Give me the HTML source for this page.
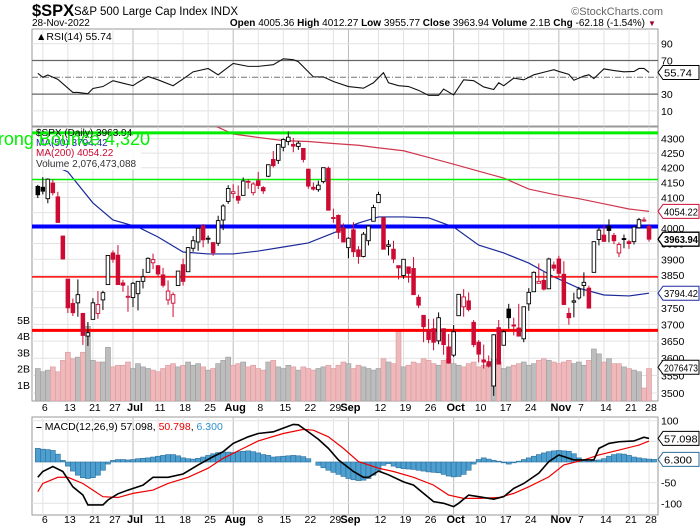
<!DOCTYPE html>
<html><head><meta charset="utf-8"><style>
html,body{margin:0;padding:0;background:#fff;width:700px;height:530px;overflow:hidden}
svg{display:block;font-family:"Liberation Sans",sans-serif}
</style></head><body>
<svg id="c" width="700" height="530" viewBox="0 0 700 530" xmlns="http://www.w3.org/2000/svg">
<g>
<text x="32" y="16" font-size="16.5" font-weight="bold" fill="#000">$SPX</text>
<text x="74" y="15" font-size="11.5" fill="#000">S&amp;P 500 Large Cap Index  INDX</text>
<text x="663" y="15" font-size="11" fill="#666" text-anchor="end">©StockCharts.com</text>
<text x="32" y="26" font-size="10" fill="#000">28-Nov-2022</text>
<text x="645" y="26" font-size="10" fill="#000" text-anchor="end"><tspan font-weight="bold">Open</tspan> 4005.36 <tspan font-weight="bold">High</tspan> 4012.27 <tspan font-weight="bold">Low</tspan> 3955.77 <tspan font-weight="bold">Close</tspan> 3963.94 <tspan font-weight="bold">Volume</tspan> 2.1B <tspan font-weight="bold">Chg</tspan> -62.18 (-1.54%)</text>
<text x="648" y="26" font-size="8" fill="#a0002a">▼</text>
</g>
<g id="grid"></g>
<g id="rsi"></g>
<defs><clipPath id="pclip"><rect x="32" y="127" width="626" height="274"/></clipPath><clipPath id="mclip"><rect x="32" y="417" width="626" height="98"/></clipPath></defs>
<g id="price" clip-path="url(#pclip)"></g>
<g id="macd" clip-path="url(#mclip)"></g>
<g id="overlay"></g>
</svg>
<script>
const ohlc=[[4137,4142,4098,4109],[4134,4168,4110,4121],[4096,4164,4081,4161],[4148,4160,4107,4116],[4102,4119,4017,4018],[3974,3974,3900,3901],
[3838,3838,3734,3750],[3763,3778,3725,3735],[3765,3837,3723,3790],[3733,3733,3639,3667],[3665,3707,3636,3675],[3715,3779,3715,3765],[3733,3801,3717,3760],[3774,3802,3743,3796],[3821,3913,3821,3912],
[3920,3928,3889,3900],[3913,3945,3820,3821],[3826,3836,3799,3819],[3785,3818,3738,3785],[3781,3829,3752,3825],[3793,3832,3742,3831],[3831,3870,3809,3845],[3859,3906,3859,3903],[3889,3918,3869,3899],
[3880,3880,3847,3854],[3851,3873,3812,3819],[3774,3834,3759,3801],[3764,3797,3722,3790],[3818,3863,3817,3863],[3883,3902,3818,3831],[3861,3939,3860,3937],[3935,3974,3924,3959],[3955,3999,3927,3999],[4007,4013,3938,3962],
[3966,3976,3950,3967],[3953,3954,3911,3921],[3951,4040,3942,4024],[4026,4078,3993,4072],[4087,4141,4079,4130],[4113,4144,4097,4119],[4104,4140,4079,4091],[4107,4167,4107,4155],[4154,4161,4129,4152],[4116,4151,4107,4145],
[4156,4186,4128,4140],[4133,4138,4112,4122],[4171,4211,4168,4210],[4228,4257,4201,4207],[4225,4280,4213,4280],[4270,4301,4256,4297],[4290,4325,4277,4305],[4280,4302,4253,4274],[4273,4292,4261,4284],[4266,4266,4218,4228],
[4195,4196,4129,4138],[4134,4150,4123,4128],[4126,4156,4119,4141],[4153,4200,4147,4200],[4198,4204,4057,4058],[4034,4063,4017,4031],[4041,4044,3965,3986],[4000,4015,3954,3955],[3937,3970,3903,3967],[3994,4019,3907,3924],
[3930,3942,3886,3909],[3909,3987,3906,3980],[3959,4010,3944,4006],[4022,4076,4022,4067],[4083,4119,4083,4110],[4034,4034,3933,3932],[3941,3961,3912,3946],[3932,3959,3888,3901],[3880,3880,3837,3873],
[3849,3900,3839,3900],[3876,3876,3827,3856],[3871,3907,3789,3790],[3782,3790,3749,3758],[3727,3727,3647,3693],[3682,3716,3644,3655],[3687,3717,3623,3647],[3651,3736,3641,3720],[3687,3688,3610,3640],[3633,3671,3584,3586],
[3609,3698,3604,3678],[3726,3791,3726,3791],[3753,3807,3723,3783],[3771,3797,3739,3745],[3706,3713,3632,3640],[3647,3653,3588,3612],[3595,3640,3570,3589],[3590,3608,3573,3577],[3520,3670,3492,3669],[3690,3713,3584,3583],
[3638,3683,3638,3678],[3746,3762,3687,3720],[3698,3720,3667,3695],[3689,3762,3666,3665],[3657,3753,3647,3753],[3762,3810,3741,3797],[3799,3862,3799,3859],[3825,3887,3824,3831],[3834,3860,3803,3807],[3808,3905,3808,3901],
[3882,3893,3863,3872],[3901,3911,3843,3856],[3853,3894,3758,3760],[3733,3750,3699,3720],[3767,3796,3721,3771],[3780,3814,3775,3807],[3818,3859,3785,3828],[3810,3818,3749,3749],[3859,3957,3859,3956],[3963,4002,3944,3993],
[3977,4009,3956,3957],[4006,4028,3954,3992],[3976,3984,3948,3959],[3920,3954,3907,3947],[3966,3979,3935,3965],[3956,3962,3933,3950],[3956,4004,3947,4003],[4001,4033,3998,4027],[4024,4035,4020,4026],[4005,4012,3956,3964]];
const volume=[2.0,1.8,1.9,2.1,1.8,2.5,3.0,2.6,2.7,3.0,4.6,2.5,2.4,2.4,3.3,2.1,2.2,2.2,2.4,2.0,2.3,2.1,2.0,1.9,1.8,2.0,2.2,2.3,2.1,2.2,2.4,2.2,2.3,2.1,1.9,2.0,2.3,2.5,2.7,2.2,2.3,2.4,2.1,2.2,
2.0,1.9,2.4,2.5,2.1,2.0,2.2,2.1,1.9,2.1,2.0,1.9,2.0,2.1,2.2,2.0,2.2,2.4,2.3,2.0,2.2,2.1,2.0,1.9,2.0,2.6,2.4,2.3,4.3,2.1,2.2,2.4,2.3,2.6,2.5,2.3,2.2,2.5,2.6,2.3,2.2,2.1,2.3,2.4,2.1,2.2,2.3,2.6,2.4,
2.0,2.1,2.2,2.3,2.4,2.2,2.3,2.5,2.6,2.5,2.4,2.3,2.4,2.5,2.3,2.4,2.2,2.5,3.2,2.9,2.4,2.6,2.3,2.3,2.1,2.0,1.9,1.8,0.8,2.0];
const ma50Day=[0,2,6,11,15,20,24,29,34,39,44,49,54,59,64,68,73,78,83,88,93,98,103,108,113,118,122];
const ma50Val=[4260,4216,4186,4082,4026,4003,3971,3923,3917,3917,3926,3939,3952,3984,4016,4036,4036,4033,4003,3945,3920,3888,3845,3810,3789,3786,3794.42];
const ma200Day=[29,34,39,44,49,54,59,64,68,73,78,83,88,93,98,103,108,113,118,122];
const ma200Val=[4370,4355,4316,4304,4293,4290,4283,4277,4268,4258,4235,4212,4188,4165,4128,4110,4096,4079,4062,4054.22];
const hLineLevels=[4320,4160,4005,3845,3682];
const hLineColors=['#00ee00','#00ee00','#0000ff','#ff0000','#ff0000'];
const hLineWidths=[3,1.5,4,1.5,3];
const priceTicks=[3500,3550,3600,3650,3700,3750,3800,3850,3900,3950,4000,4050,4100,4150,4200,4250,4300];
const volTicks=[1,2,3,4,5];
const rsiTicks=[10,30,50,70,90];
const rsiDay=[0,1,2,4,7,8,10,11,13,15,17,19,20,22,24,27,29,31,34,36,38,39,42,44,47,49,51,52,55,57,59,62,65,67,69,70,72,74,76,78,80,81,83,85,87,89,91,92,93,95,97,99,101,103,104,106,107,109,110,111,113,115,117,119,120,121,122];
const rsiVal=[54.8,50,52.7,47.6,32,32,30.5,36.7,39,46,43,40,44,51,47,40,48,56.5,60.5,53,62,66.5,63,63,65,72,71,68.5,50.5,50.5,45,39,37,43.5,55.5,43.5,40,39,34.5,28.5,28.5,36,29,47,46,38.5,35.5,43.5,40,49,47,53,56,59,57,53.5,46.5,51.5,53,48.5,60,58,56.5,57,60.5,60.5,55.74];
const macdDay=[0,1,3,5,7,9,10,13,14,16,18,21,23,26,29,32,35,37,39,42,44,47,49,51,52,54,56,58,60,63,65,66,68,70,73,75,77,79,81,83,84,86,88,91,93,95,97,100,102,104,105,107,109,111,112,114,116,119,121,122];
const macdVal=[-37,-23,-11,-23,-60,-80,-104,-104,-92,-77,-68,-56,-37,-37,-29,-7,13,25,45,61,69,73,82,91,90,73,55,33,5,-23,-37,-37,-22,-31,-48,-56,-76,-96,-100,-108,-100,-80,-84,-90,-84,-64,-52,-27,1,17,13,5,5,5,33,45,49,51,60,57.098];
const sigDay=[0,1,4,6,9,11,13,16,19,23,26,30,34,37,41,44,49,53,55,58,61,64,68,71,75,79,82,85,88,92,95,98,102,105,109,112,116,120,122];
const sigVal=[-72,-52,-37,-37,-52,-68,-84,-86,-76,-68,-52,-37,-15,9,33,51,69,79,77,61,33,1,-15,-23,-37,-56,-80,-88,-88,-86,-76,-60,-36,-7,5,17,29,41,50.798];
const hist=[33,31,30,28,19,4,-10,-22,-32,-38,-40,-38,-32,-20,-5,4,6,6,5,6,8,9,10,12,14,16,18,18,15,10,8,7,9,12,16,20,23,24,24,23,25,26,27,25,22,18,16,12,13,14,15,16,15,13,8,0,-8,-14,-20,-25,-30,-35,-40,-43,-45,-44,-40,-32,-20,-8,-4,-10,-14,-16,-17,-18,-20,-22,-24,-25,-26,-30,-34,-36,-35,-30,-20,-5,6,10,7,4,2,-2,-5,-2,2,6,10,14,18,22,25,27,28,27,26,20,10,4,2,4,5,8,14,18,20,19,16,12,10,8,7,6.3];
const macdTicks=[-100,-50,50,100];
const dateLabels=['6','13','21','27','Jul','11','18','25','Aug','8','15','22','29','Sep','12','19','26','Oct','10','17','24','Nov','7','14','21','28'];
const dateDays=[1,6,11,15,19,24,29,34,39,44,49,54,59,62,68,73,78,83,88,93,98,104,108,113,118,122];

const NS='http://www.w3.org/2000/svg';
const L=32,R=658;
const xOf=i=>37.8+5.01*i;
const yP=p=>228-1236*Math.log(p/4000);
const yV=v=>401-16.25*v;
const yR=r=>77.3-(r-50)*0.84;
const yM=m=>462-m*0.413;
function mk(parent,tag,a,txt){const e=document.createElementNS(NS,tag);for(const k in a)e.setAttribute(k,a[k]);if(txt!==undefined)e.textContent=txt;document.getElementById(parent).appendChild(e);return e;}
const panels=[[29,126],[127,401],[417,515]];
panels.forEach((p,k)=>{const e=mk('grid','rect',{x:L,y:p[0],width:R-L,height:p[1]-p[0],fill:'#fff',stroke:'#999','stroke-width':1});

});
dateDays.forEach((d,k)=>{const month=['Jul','Aug','Sep','Oct','Nov'].includes(dateLabels[k]);
panels.forEach(p=>{const e=mk('grid','line',{x1:xOf(d),x2:xOf(d),y1:p[0],y2:p[1],stroke:month?'#bbb':'#e2e2e2','stroke-width':1});

});
[411,523].forEach(y=>{const t=mk('grid','text',{x:xOf(d)+2,y:y,'font-size':month?11:10.5,'font-weight':month?'bold':'normal','text-anchor':'middle',fill:'#000'},dateLabels[k]);

});});
rsiTicks.forEach(t=>{const y=yR(t);const strong=(t===30||t===70);
const e=mk('grid','line',{x1:L,x2:R,y1:y,y2:y,stroke:strong?'#666':(t===50?'#777':'#e2e2e2'),'stroke-width':strong?1.2:1,'stroke-dasharray':t===50?'6,2,1,2':'none'});


if(t!==50){const l=mk('grid','text',{x:661,y:y+4,'font-size':10.5,fill:'#000'},String(t));

}});
let pts=rsiDay.map((d,k)=>xOf(d)+','+yR(rsiVal[k])).join(' ');
let e=mk('rsi','polyline',{points:pts,fill:'none',stroke:'#111','stroke-width':1.1});


e=mk('rsi','text',{x:36,y:40,'font-size':10.5,fill:'#000'},'▲RSI(14) 55.74');


priceTicks.forEach(t=>{const y=yP(t);const g=mk('grid','line',{x1:L,x2:R,y1:y,y2:y,stroke:'#e2e2e2'});


const l=mk('overlay','text',{x:661,y:y+4,'font-size':10.5,fill:'#000'},String(t));

});
volTicks.forEach(v=>{const l=mk('overlay','text',{x:30,y:yV(v)+4,'font-size':10.5,fill:'#000','text-anchor':'end'},v+'B');

});
volume.forEach((v,i)=>{const down=i>0&&ohlc[i][3]<ohlc[i-1][3];
const b=mk('price','rect',{x:xOf(i)-2.5,y:yV(v),width:5,height:401-yV(v),fill:down?'#efb9bc':'#bdbdbd',stroke:down?'#d99a9e':'#9c9c9c','stroke-width':0.6});

});
pts=ma200Day.map((d,k)=>xOf(d)+','+yP(ma200Val[k])).join(' ');
e=mk('price','polyline',{points:pts,fill:'none',stroke:'#d0364f','stroke-width':1.2});


pts=ma50Day.map((d,k)=>xOf(d)+','+yP(ma50Val[k])).join(' ');
e=mk('price','polyline',{points:pts,fill:'none',stroke:'#1b2a9a','stroke-width':1.2});


e=mk('price','rect',{x:33,y:128,width:108,height:42,fill:'#fff','fill-opacity':0.9});


hLineLevels.forEach((p,k)=>{const y=yP(p);const l=mk('price','line',{x1:L,x2:R,y1:y,y2:y,stroke:hLineColors[k],'stroke-width':hLineWidths[k]});

});
ohlc.forEach((c,i)=>{const [o,h,lo,cl]=c;const down=i>0&&cl<ohlc[i-1][3];const col=down?'#cc0a33':'#000';const x=xOf(i);
const w=mk('price','line',{x1:x,x2:x,y1:yP(h),y2:yP(lo),stroke:col,'stroke-width':1});


const top=yP(Math.max(o,cl)),bh=Math.max(1,yP(Math.min(o,cl))-top);
const b=mk('price','rect',{x:x-1.8,y:top,width:3.6,height:bh,fill:cl>=o?'#fff':col,stroke:col,'stroke-width':0.9});

});
[['$SPX (Daily) 3963.94','#000',136],['MA(50) 3794.42','#1b2a9a',146],['MA(200) 4054.22','#cc0a33',156],['Volume 2,076,473,088','#333',167]].forEach(a=>{
const t=mk('overlay','text',{x:36,y:a[2],'font-size':10,fill:a[1]},a[0]);

});
e=mk('overlay','text',{x:150,y:145,'font-size':18,fill:'#00ee00','text-anchor':'end'},'Strong Bounce 4,320');


macdTicks.forEach(t=>{const y=yM(t);const g=mk('grid','line',{x1:L,x2:R,y1:y,y2:y,stroke:'#e2e2e2'});


if(t!==50){const l=mk('overlay','text',{x:661,y:y+4,'font-size':10.5,fill:'#000'},String(t));

}});
hist.forEach((v,i)=>{const y0=yM(0),y1=yM(v);
const b=mk('macd','rect',{x:xOf(i)-2.5,y:Math.min(y0,y1),width:5,height:Math.abs(y1-y0),fill:'#4d9fcf',stroke:'#2b6e9c','stroke-width':0.6});

});
pts=sigDay.map((d,k)=>xOf(d)+','+yM(sigVal[k])).join(' ');
e=mk('macd','polyline',{points:pts,fill:'none',stroke:'#ee0000','stroke-width':1.2});


pts=macdDay.map((d,k)=>xOf(d)+','+yM(macdVal[k])).join(' ');
e=mk('macd','polyline',{points:pts,fill:'none',stroke:'#000','stroke-width':1.6});


e=mk('overlay','text',{x:36,y:430,'font-size':10.5,fill:'#000'});
e.innerHTML='<tspan font-weight="bold">–</tspan> MACD(12,26,9) 57.098, <tspan fill="#ee0000">50.798</tspan>, <tspan fill="#2b8fd0">6.300</tspan>';


function tag(y,txt,stroke,bold,name){const g=document.createElementNS(NS,'g');document.getElementById('overlay').appendChild(g);
const right=699;
const p=document.createElementNS(NS,'polygon');p.setAttribute('points',`${658},${y} ${663},${y-7} ${right},${y-7} ${right},${y+7} ${663},${y+7}`);
p.setAttribute('fill','#fff');p.setAttribute('stroke',stroke);p.setAttribute('stroke-width',bold?1.3:1);g.appendChild(p);
const t=document.createElementNS(NS,'text');t.setAttribute('x',664);t.setAttribute('y',y+4);t.setAttribute('font-size',10.5);if(bold)t.setAttribute('font-weight','bold');
t.setAttribute('textLength',Math.min(34,txt.length*5.6));t.setAttribute('lengthAdjust','spacingAndGlyphs');t.textContent=txt;g.appendChild(t);

}
tag(yR(55.74),'55.74','#000',false,'rsi-value-tag');
tag(yP(4054.22),'4054.22','#cc0a33',false,'ma200-value-tag');
tag(yP(3963.94),'3963.94','#000',true,'close-value-tag');
tag(yP(3794.42),'3794.42','#1b2a9a',false,'ma50-value-tag');
tag(yV(2.076),'2076473','#000',false,'volume-value-tag');
tag(yM(57.098),'57.098','#000',false,'macd-value-tag');
tag(yM(6.3),'6.300','#2b6e9c',false,'histogram-value-tag');
</script>
</body></html>
